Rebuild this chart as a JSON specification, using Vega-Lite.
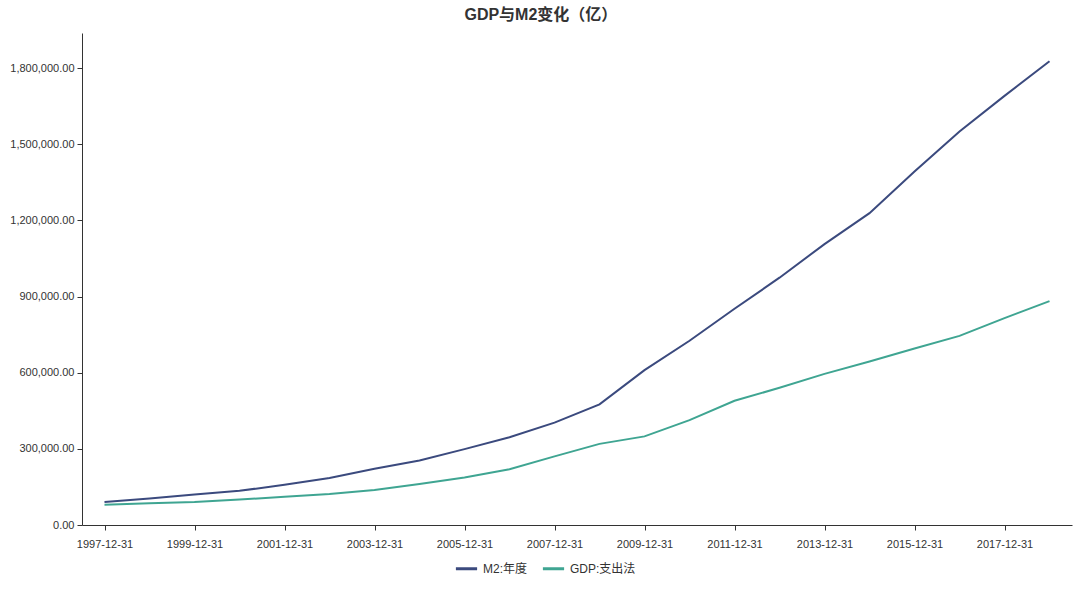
{
  "$schema": "https://vega.github.io/schema/vega-lite/v6.json",
  "width": 990,
  "height": 492,
  "padding": {"left": 9, "top": 7, "right": 7, "bottom": 5},
  "background": "white",
  "title": {"text": "GDP与M2变化（亿）", "fontSize": 16, "fontWeight": "bold", "color": "#333333", "font": "Liberation Sans, Noto Sans CJK SC", "offset": 10, "frame": "bounds", "anchor": "middle"},
  "config": {
    "view": {"stroke": null},
    "font": "Liberation Sans, Noto Sans CJK SC",
    "axis": {"labelFont": "Liberation Sans, Noto Sans CJK SC", "labelFontSize": 11, "labelColor": "#333333", "domainColor": "#333333", "tickColor": "#333333", "grid": false, "title": null}
  },
  "data": {"values": [
    {"date": "1997-12-31", "series": "M2:年度", "value": 90995.3},
    {"date": "1998-12-31", "series": "M2:年度", "value": 104498.5},
    {"date": "1999-12-31", "series": "M2:年度", "value": 119897.9},
    {"date": "2000-12-31", "series": "M2:年度", "value": 134610.3},
    {"date": "2001-12-31", "series": "M2:年度", "value": 158301.9},
    {"date": "2002-12-31", "series": "M2:年度", "value": 185007.0},
    {"date": "2003-12-31", "series": "M2:年度", "value": 221222.8},
    {"date": "2004-12-31", "series": "M2:年度", "value": 254107.0},
    {"date": "2005-12-31", "series": "M2:年度", "value": 298755.7},
    {"date": "2006-12-31", "series": "M2:年度", "value": 345577.9},
    {"date": "2007-12-31", "series": "M2:年度", "value": 403442.2},
    {"date": "2008-12-31", "series": "M2:年度", "value": 475166.6},
    {"date": "2009-12-31", "series": "M2:年度", "value": 610224.5},
    {"date": "2010-12-31", "series": "M2:年度", "value": 725851.8},
    {"date": "2011-12-31", "series": "M2:年度", "value": 851590.9},
    {"date": "2012-12-31", "series": "M2:年度", "value": 974148.8},
    {"date": "2013-12-31", "series": "M2:年度", "value": 1106525.0},
    {"date": "2014-12-31", "series": "M2:年度", "value": 1228374.8},
    {"date": "2015-12-31", "series": "M2:年度", "value": 1392278.1},
    {"date": "2016-12-31", "series": "M2:年度", "value": 1550066.7},
    {"date": "2017-12-31", "series": "M2:年度", "value": 1690235.3},
    {"date": "2018-12-31", "series": "M2:年度", "value": 1826744.2},
    {"date": "1997-12-31", "series": "GDP:支出法", "value": 79715.0},
    {"date": "1998-12-31", "series": "GDP:支出法", "value": 85195.5},
    {"date": "1999-12-31", "series": "GDP:支出法", "value": 90564.4},
    {"date": "2000-12-31", "series": "GDP:支出法", "value": 100280.1},
    {"date": "2001-12-31", "series": "GDP:支出法", "value": 110863.1},
    {"date": "2002-12-31", "series": "GDP:支出法", "value": 121717.4},
    {"date": "2003-12-31", "series": "GDP:支出法", "value": 137422.0},
    {"date": "2004-12-31", "series": "GDP:支出法", "value": 161840.2},
    {"date": "2005-12-31", "series": "GDP:支出法", "value": 187318.9},
    {"date": "2006-12-31", "series": "GDP:支出法", "value": 219438.5},
    {"date": "2007-12-31", "series": "GDP:支出法", "value": 270232.3},
    {"date": "2008-12-31", "series": "GDP:支出法", "value": 319515.5},
    {"date": "2009-12-31", "series": "GDP:支出法", "value": 349081.4},
    {"date": "2010-12-31", "series": "GDP:支出法", "value": 413030.3},
    {"date": "2011-12-31", "series": "GDP:支出法", "value": 489300.6},
    {"date": "2012-12-31", "series": "GDP:支出法", "value": 540367.4},
    {"date": "2013-12-31", "series": "GDP:支出法", "value": 595244.4},
    {"date": "2014-12-31", "series": "GDP:支出法", "value": 643974.0},
    {"date": "2015-12-31", "series": "GDP:支出法", "value": 695000.0},
    {"date": "2016-12-31", "series": "GDP:支出法", "value": 745000.0},
    {"date": "2017-12-31", "series": "GDP:支出法", "value": 815000.0},
    {"date": "2018-12-31", "series": "GDP:支出法", "value": 882000.0}
  ]},
  "mark": {"type": "line", "strokeWidth": 2},
  "encoding": {
    "x": {
      "field": "date", "type": "ordinal",
      "scale": {"type": "point", "padding": 0.5},
      "axis": {"labelAngle": 0, "values": ["1997-12-31","1999-12-31","2001-12-31","2003-12-31","2005-12-31","2007-12-31","2009-12-31","2011-12-31","2013-12-31","2015-12-31","2017-12-31"], "labelPadding": 8, "tickSize": 5}
    },
    "y": {
      "field": "value", "type": "quantitative",
      "scale": {"domain": [0, 1938000], "nice": false},
      "axis": {"values": [0, 300000, 600000, 900000, 1200000, 1500000, 1800000], "format": ",.2f", "tickSize": 5, "labelPadding": 3}
    },
    "color": {
      "field": "series", "type": "nominal",
      "scale": {"domain": ["M2:年度", "GDP:支出法"], "range": ["#3b4a7e", "#3fa592"]},
      "legend": {"title": null, "orient": "none", "direction": "horizontal", "legendX": 372, "legendY": 523, "symbolType": "stroke", "symbolStrokeWidth": 3, "symbolSize": 450, "labelFontSize": 12, "labelColor": "#333333", "labelFont": "Liberation Sans, Noto Sans CJK SC", "columnPadding": 8, "labelOffset": 4}
    }
  }
}
